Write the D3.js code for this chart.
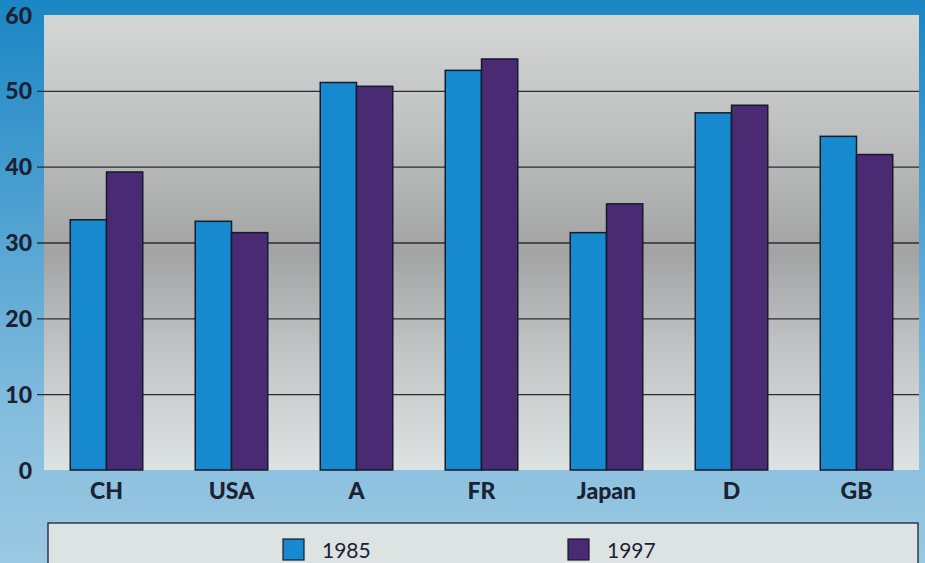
<!DOCTYPE html>
<html>
<head>
<meta charset="utf-8">
<script src="https://cdn.jsdelivr.net/npm/d3@7"></script>
<style>
  body { margin: 0; overflow: hidden; }
  text { font-family: Lato, "Open Sans", sans-serif; }
</style>
</head>
<body>
<div id="chart"></div>
<script>
var width = 925,
    height = 563;

// data
var countries = ["CH", "USA", "A", "FR", "Japan", "D", "GB"];
var years = ["1985", "1997"];
var values1985 = [33.0, 32.8, 51.1, 52.7, 31.3, 47.1, 44.0];
var values1997 = [39.3, 31.3, 50.6, 54.2, 35.1, 48.1, 41.6];
var yTicks = [0, 10, 20, 30, 40, 50, 60];
var colors = ["#1689cf", "#4a2a72"];

var margin = {top: 15, right: 6, bottom: 93, left: 44};
var plotW = width - margin.left - margin.right,
    plotH = height - margin.top - margin.bottom;

var svg = d3.select("#chart").append("svg")
    .attr("width", width)
    .attr("height", height);

var defs = svg.append("defs");

// blue page background
var bg = defs.append("linearGradient").attr("id", "bg")
    .attr("x1", 0).attr("y1", 0).attr("x2", 0).attr("y2", 1);
bg.append("stop").attr("offset", "0%").attr("stop-color", "#1a86c4");
bg.append("stop").attr("offset", "35%").attr("stop-color", "#4a9fd0");
bg.append("stop").attr("offset", "75%").attr("stop-color", "#86bede");
bg.append("stop").attr("offset", "100%").attr("stop-color", "#9ac8e2");

// grey panel, darker in the middle
var pg = defs.append("linearGradient").attr("id", "panel")
    .attr("x1", 0).attr("y1", 0).attr("x2", 0).attr("y2", 1);
pg.append("stop").attr("offset", "0%").attr("stop-color", "#d3d7d6");
pg.append("stop").attr("offset", "25%").attr("stop-color", "#bfc1c0");
pg.append("stop").attr("offset", "52%").attr("stop-color", "#a3a3a4");
pg.append("stop").attr("offset", "75%").attr("stop-color", "#c3c6c6");
pg.append("stop").attr("offset", "100%").attr("stop-color", "#dde2e2");

svg.append("rect")
    .attr("width", width).attr("height", height)
    .attr("fill", "url(#bg)");

var g = svg.append("g")
    .attr("transform", "translate(" + margin.left + "," + margin.top + ")");

g.append("rect")
    .attr("width", plotW).attr("height", plotH)
    .attr("fill", "url(#panel)");

var x = d3.scaleBand()
    .domain(countries)
    .range([0, plotW])
    .paddingInner(0.42)
    .paddingOuter(0.21);

var x1 = d3.scaleBand()
    .domain(years)
    .range([0, x.bandwidth()]);

var y = d3.scaleLinear()
    .domain([0, 60])
    .range([plotH, 0]);

// gridlines with tick stubs
var yAxis = g.append("g")
    .call(d3.axisLeft(y).tickValues(yTicks).tickSize(-plotW - 7).tickFormat(function(d) { return d; }))
    .attr("transform", "translate(-7,0)");
yAxis.select(".domain").remove();
yAxis.selectAll(".tick line")
    .attr("stroke", "#2a2c30")
    .attr("stroke-width", 1.3)
    .attr("x1", 0)
    .attr("x2", plotW + 7)
    .style("display", function(d) { return (d == 0 || d == 60) ? "none" : null; });
yAxis.selectAll(".tick text")
    .attr("x", -5)
    .attr("dy", "0.35em")
    .attr("fill", "#1b2233")
    .style("font-size", "23px")
    .style("font-weight", "900");

var rows = countries.map(function(c, i) {
  return {country: c, vals: [values1985[i], values1997[i]]};
});

var groups = g.selectAll(".group")
    .data(rows)
  .enter().append("g")
    .attr("class", "group")
    .attr("transform", function(d) { return "translate(" + x(d.country) + ",0)"; });

groups.selectAll("rect")
    .data(function(d) { return d.vals.map(function(v, i) { return {year: years[i], value: v, i: i}; }); })
  .enter().append("rect")
    .attr("x", function(d) { return x1(d.year); })
    .attr("y", function(d) { return y(d.value); })
    .attr("width", x1.bandwidth())
    .attr("height", function(d) { return plotH - y(d.value); })
    .attr("fill", function(d) { return colors[d.i]; })
    .attr("stroke", "#161b2a")
    .attr("stroke-width", 1.5);

// x labels
g.selectAll(".xlabel")
    .data(countries)
  .enter().append("text")
    .attr("class", "xlabel")
    .attr("x", function(d) { return x(d) + x.bandwidth() / 2; })
    .attr("y", plotH + 29)
    .attr("text-anchor", "middle")
    .attr("fill", "#1b2233")
    .style("font-size", "23px")
    .style("font-weight", "900")
    .text(function(d) { return d; });

// legend box
var legend = svg.append("g");
legend.append("rect")
    .attr("x", 48).attr("y", 523)
    .attr("width", 870).attr("height", 60)
    .attr("fill", "#dde3e3")
    .attr("stroke", "#1b2233")
    .attr("stroke-width", 1.3);

var legendX = [283, 568];
years.forEach(function(yr, i) {
  legend.append("rect")
      .attr("x", legendX[i]).attr("y", 539)
      .attr("width", 21).attr("height", 21)
      .attr("fill", colors[i])
      .attr("stroke", "#161b2a")
      .attr("stroke-width", 1.2);
  legend.append("text")
      .attr("x", legendX[i] + 39).attr("y", 558)
      .attr("fill", "#1b2233")
      .style("font-size", "21px")
      .text(yr);
});
</script>
</body>
</html>
